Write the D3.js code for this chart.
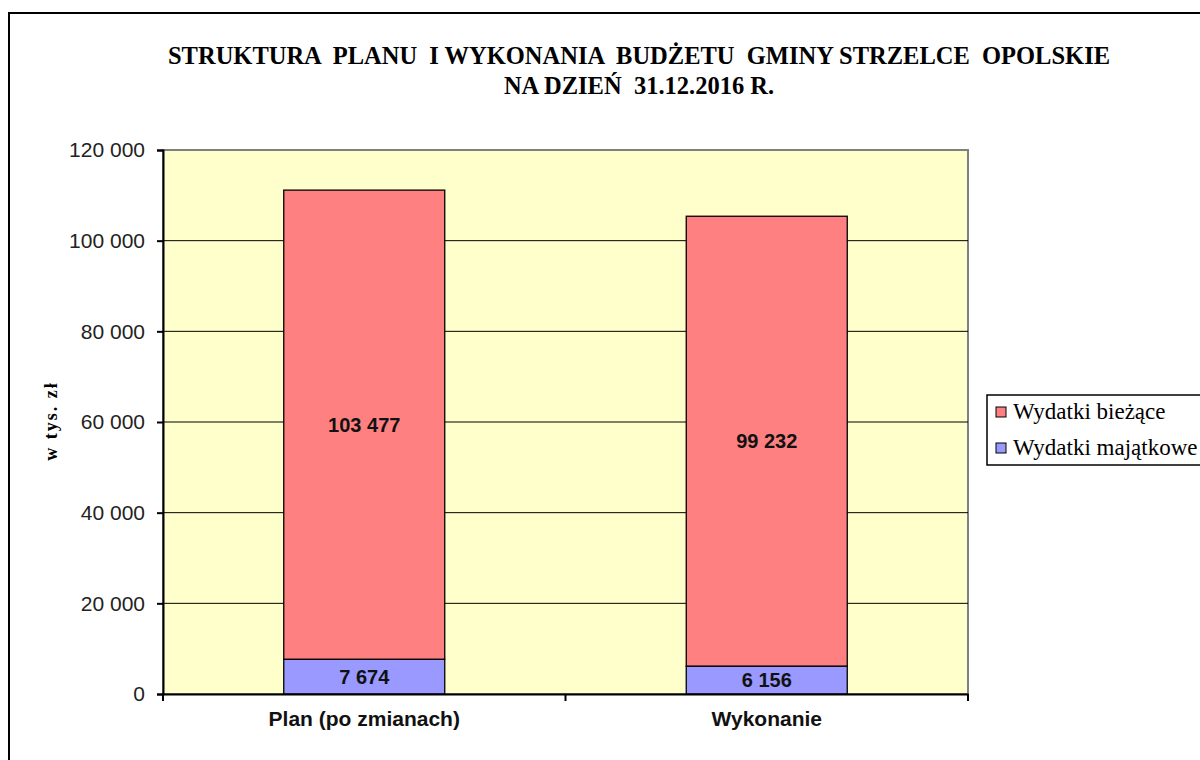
<!DOCTYPE html>
<html>
<head>
<meta charset="utf-8">
<script src="https://cdn.jsdelivr.net/npm/d3@7"></script>
<style>
  body { margin: 0; background: #fff; }
  svg { display: block; }
</style>
</head>
<body>
<script>
var categories = ["Plan (po zmianach)", "Wykonanie"];
var seriesNames = ["Wydatki majątkowe", "Wydatki bieżące"];
var majatkowe = [7674, 6156];
var biezace = [103477, 99232];
var yTicks = [0, 20000, 40000, 60000, 80000, 100000, 120000];
var titleLines = ["STRUKTURA  PLANU  I WYKONANIA  BUDŻETU  GMINY STRZELCE  OPOLSKIE", "NA DZIEŃ  31.12.2016 R."];

var w = 1200, h = 760;
var plot = {left: 163, right: 968, top: 150, bottom: 694};
var colors = {"Wydatki bieżące": "#ff8080", "Wydatki majątkowe": "#9999ff"};

var svg = d3.select("body").append("svg").attr("width", w).attr("height", h);

// outer frame
svg.append("rect").attr("x", 9).attr("y", 13).attr("width", 1300).attr("height", 900)
  .attr("fill", "none").attr("stroke", "#000").attr("stroke-width", 2);

// title
svg.append("g").selectAll("text").data(titleLines).enter().append("text")
  .attr("x", 639).attr("y", function(d, i) { return 64 + i * 30; })
  .attr("text-anchor", "middle")
  .style("font-family", "'Liberation Serif', 'Times New Roman', serif")
  .style("font-weight", "bold").style("font-size", "24.5px")
  .style("white-space", "pre")
  .text(function(d) { return d; });

var x = d3.scaleBand().domain(categories).range([plot.left, plot.right]).paddingInner(0.6).paddingOuter(0.3);
var y = d3.scaleLinear().domain([0, 120000]).range([plot.bottom, plot.top]);

// plot background
svg.append("rect").attr("x", plot.left).attr("y", plot.top)
  .attr("width", plot.right - plot.left).attr("height", plot.bottom - plot.top)
  .attr("fill", "#ffffcc").attr("stroke", "#808080").attr("stroke-width", 2);

// gridlines
svg.append("g").selectAll("line").data(yTicks.filter(function(d) { return d > 0 && d < 120000; })).enter().append("line")
  .attr("x1", plot.left).attr("x2", plot.right)
  .attr("y1", function(d) { return y(d); }).attr("y2", function(d) { return y(d); })
  .attr("stroke", "#000").attr("stroke-width", 1);

// stack data
var rows = categories.map(function(c, i) {
  return {cat: c, "Wydatki majątkowe": majatkowe[i], "Wydatki bieżące": biezace[i]};
});
var stacked = d3.stack().keys(seriesNames)(rows);

var fmt = function(v) { return d3.format(",")(v).replace(/,/g, " "); };

var layers = svg.append("g").selectAll("g").data(stacked).enter().append("g")
  .attr("fill", function(d) { return colors[d.key]; });

layers.selectAll("rect").data(function(d) { return d; }).enter().append("rect")
  .attr("x", function(d) { return x(d.data.cat); })
  .attr("width", x.bandwidth())
  .attr("y", function(d) { return y(d[1]); })
  .attr("height", function(d) { return y(d[0]) - y(d[1]); })
  .attr("stroke", "#000").attr("stroke-width", 1.3);

layers.selectAll("text").data(function(d) { return d; }).enter().append("text")
  .attr("x", function(d) { return x(d.data.cat) + x.bandwidth() / 2; })
  .attr("y", function(d) { return (y(d[0]) + y(d[1])) / 2 + 7; })
  .attr("text-anchor", "middle").attr("fill", "#111")
  .style("font-family", "'Liberation Sans', Arial, sans-serif")
  .style("font-weight", "bold").style("font-size", "20px")
  .text(function(d) { return fmt(d[1] - d[0]); });

// y axis
var yAxis = svg.append("g").attr("transform", "translate(" + plot.left + ",0)")
  .call(d3.axisLeft(y).tickValues(yTicks).tickSize(6).tickPadding(12).tickFormat(fmt));
yAxis.select(".domain").attr("stroke", "#000").attr("stroke-width", 2);
yAxis.selectAll(".tick line").attr("stroke", "#000").attr("stroke-width", 2);
yAxis.selectAll("text").attr("fill", "#222")
  .style("font-family", "'Liberation Sans', Arial, sans-serif").style("font-size", "21px");

// x axis
var xAxis = svg.append("g").attr("transform", "translate(0," + plot.bottom + ")")
  .call(d3.axisBottom(x).tickSize(0).tickPadding(17));
xAxis.select(".domain").attr("stroke", "#000").attr("stroke-width", 2);
xAxis.selectAll("text").attr("fill", "#111")
  .style("font-family", "'Liberation Sans', Arial, sans-serif")
  .style("font-weight", "bold").style("font-size", "21px");
svg.append("g").selectAll("line").data([plot.left, (plot.left + plot.right) / 2, plot.right]).enter().append("line")
  .attr("x1", function(d) { return d; }).attr("x2", function(d) { return d; })
  .attr("y1", plot.bottom).attr("y2", plot.bottom + 7)
  .attr("stroke", "#000").attr("stroke-width", 2);

// y label
svg.append("text").attr("transform", "translate(57,421) rotate(-90)")
  .attr("text-anchor", "middle")
  .style("font-family", "'Liberation Serif', 'Times New Roman', serif")
  .style("font-weight", "bold").style("font-size", "18px").style("letter-spacing", "2px")
  .text("w tys. zł");

// legend
var legend = svg.append("g").attr("transform", "translate(987,395)");
legend.append("rect").attr("width", 260).attr("height", 70)
  .attr("fill", "#fff").attr("stroke", "#000").attr("stroke-width", 1.5);
var items = legend.selectAll("g").data(seriesNames.slice().reverse()).enter().append("g")
  .attr("transform", function(d, i) { return "translate(0," + (17 + i * 36) + ")"; });
items.append("rect").attr("x", 9).attr("y", -5).attr("width", 10).attr("height", 10)
  .attr("fill", function(d) { return colors[d]; }).attr("stroke", "#000").attr("stroke-width", 1);
items.append("text").attr("x", 26).attr("y", 7)
  .style("font-family", "'Liberation Serif', 'Times New Roman', serif").style("font-size", "23px")
  .text(function(d) { return d; });
</script>
</body>
</html>
